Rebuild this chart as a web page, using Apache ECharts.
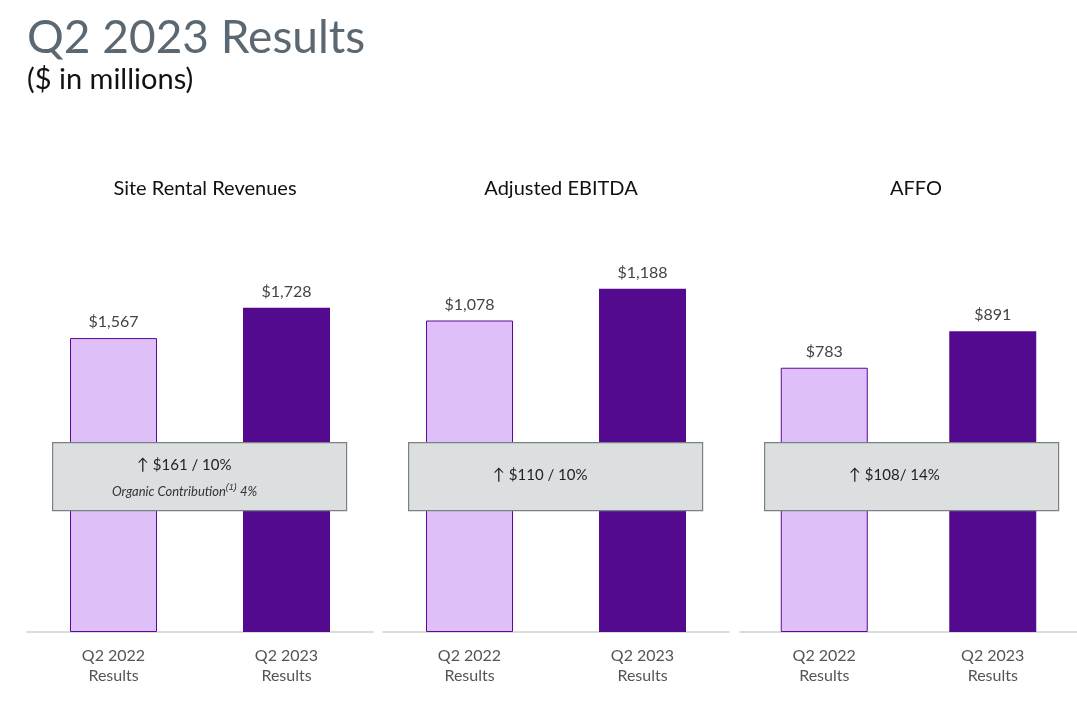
<!DOCTYPE html>
<html><head><meta charset="utf-8">
<script src="https://cdn.jsdelivr.net/npm/echarts@6/dist/echarts.min.js"></script>
<style>html,body{margin:0;padding:0;background:#fff}#c{width:1077px;height:720px}</style>
</head><body><div id="c"></div>
<script>
const categories = ['Q2 2022\nResults', 'Q2 2023\nResults'];
const panelTitles = ['Site Rental Revenues', 'Adjusted EBITDA', 'AFFO'];
const siteRental = [1567, 1728];
const ebitda = [1078, 1188];
const affo = [783, 891];
const changeText = ['$161 / 10%', '$110 / 10%', '$108/ 14%'];
const organicText = 'Organic Contribution';
const organicValue = '4%';

const seriesData = [siteRental, ebitda, affo];
const axisMax = [2303, 1495, 1280];
const gridLefts = [27, 383, 740];
const gridW = 346, gridTop = 200, gridBottom = 88;
const light = '#dfbff7', dark = '#530a8e', font = 'Lato, "Open Sans", sans-serif';

const chart = echarts.init(document.getElementById('c'));
const grids = [], xAxes = [], yAxes = [], series = [], graphics = [];
seriesData.forEach((d, i) => {
  grids.push({left: gridLefts[i], right: Math.max(0, 1077 - gridLefts[i] - gridW), top: gridTop, bottom: gridBottom});
  xAxes.push({type: 'category', gridIndex: i, data: categories,
    axisLine: {lineStyle: {color: '#d0d0d0', width: 1.5}}, axisTick: {show: false},
    axisLabel: {color: '#555', fontSize: 16, lineHeight: 20, margin: 14, fontFamily: font}});
  yAxes.push({type: 'value', gridIndex: i, min: 0, max: axisMax[i], show: false, splitLine: {show: false}});
  series.push({type: 'bar', xAxisIndex: i, yAxisIndex: i, barWidth: 87,
    data: d.map((v, j) => ({value: v, itemStyle: j === 0 ? {color: light, borderColor: '#5a0a9a', borderWidth: 1} : {color: dark}})),
    label: {show: true, position: 'top', distance: 8, color: '#444', fontSize: 16, fontFamily: font,
      formatter: p => '$' + p.value.toLocaleString('en-US')}});
  const bx = [52, 408, 764][i];
  graphics.push({type: 'rect', left: bx, top: 442, shape: {width: 294, height: 68},
    style: {fill: '#dcdfe0', stroke: '#7a8086', lineWidth: 1.2}, z: 10});
  graphics.push({type: 'text', z: 11, left: bx + 147 - 62, top: i === 0 ? 457 : 467,
    style: {text: '{a|↑} ' + changeText[i], fill: '#222', font: '15px ' + font,
      rich: {a: {fill: '#222', fontSize: 16, fontFamily: font}}}});
  if (i === 0) {
    graphics.push({type: 'text', z: 11, left: bx + 60, top: 483,
      style: {text: organicText + '{s|(1)} ' + organicValue, fill: '#333',
        font: 'italic 13px ' + font,
        rich: {s: {fontSize: 9, fontStyle: 'italic', verticalAlign: 'top', padding: [0,0,8,0], fill: '#333'}}}});
  }
});
chart.setOption({
  animation: false,
  title: [
    {text: 'Q2 2023 Results', left: 22, top: 10, textStyle: {fontSize: 46, fontWeight: 'normal', color: '#5b6872', fontFamily: font}},
    {text: '($ in millions)', left: 22, top: 60, textStyle: {fontSize: 29, fontWeight: 'normal', color: '#111', fontFamily: font}},
    ...panelTitles.map((t, i) => ({text: t, left: [200, 556, 911][i], textAlign: 'center', top: 174,
      textStyle: {fontSize: 20, fontWeight: 'normal', color: '#111', fontFamily: font}}))
  ],
  grid: grids, xAxis: xAxes, yAxis: yAxes, series: series, graphic: graphics
});
</script></body></html>
